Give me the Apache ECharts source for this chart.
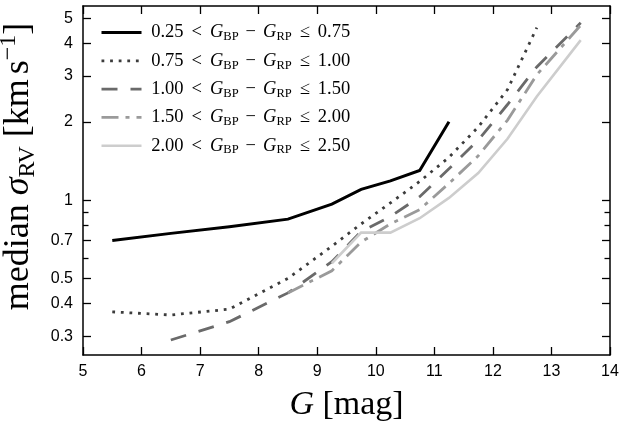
<!DOCTYPE html>
<html>
<head>
<meta charset="utf-8">
<script src="https://cdn.jsdelivr.net/npm/echarts@6/dist/echarts.min.js"></script>
<style>
  html, body { margin: 0; padding: 0; background: #ffffff; }
  #chart { width: 624px; height: 423px; }
</style>
</head>
<body>
<div id="chart"></div>
<script>
// G-magnitude bin centres shared by all colour bins
const magnitudes = [5.5, 6.5, 7.5, 8.5, 9.25, 9.75, 10.25, 10.75, 11.25, 11.75, 12.25, 12.75, 13.5];

// Median sigma_RV [km/s] per colour bin (null = bin not populated)
const sigmaBin1 = [0.70, 0.745, 0.79, 0.845, 0.965, 1.10, 1.185, 1.30, 2.00, null, null, null, null];
const sigmaBin2 = [0.372, 0.362, 0.381, 0.50, 0.665, 0.81, 0.975, 1.18, 1.46, 1.91, 2.66, 4.60, null];
const sigmaBin3 = [null, 0.29, 0.341, 0.44, 0.58, 0.757, 0.864, 1.03, 1.32, 1.70, 2.33, 3.25, 4.80];
const sigmaBin4 = [null, null, null, 0.44, 0.535, 0.69, 0.81, 0.92, 1.16, 1.48, 2.03, 3.03, 4.70];
const sigmaBin5 = [null, null, null, null, 0.572, 0.75, 0.75, 0.852, 1.02, 1.27, 1.72, 2.50, 4.12];

// Colour-bin edges (G_BP - G_RP)
const binLower = ['0.25', '0.75', '1.00', '1.50', '2.00'];
const binUpper = ['0.75', '1.00', '1.50', '2.00', '2.50'];

// Axis ticks
const xTicks = [5, 6, 7, 8, 9, 10, 11, 12, 13, 14];
const yLabelledTicks = [0.3, 0.4, 0.5, 0.7, 1, 2, 3, 4, 5];
const yPlainTicks = [0.6, 0.8, 0.9];

const xMin = 5, xMax = 14;
const yMin = 0.254, yMax = 5.57;

const serif = 'Liberation Serif';
const sans = 'Liberation Sans';

const seriesValues = [sigmaBin1, sigmaBin2, sigmaBin3, sigmaBin4, sigmaBin5];
const lineLooks = [
  { color: '#000000', width: 3.0, type: 'solid' },
  { color: '#3c3c3c', width: 2.8, type: [2.8, 5.8] },
  { color: '#6a6a6a', width: 2.8, type: [16, 13] },
  { color: '#9a9a9a', width: 2.8, type: [17, 7, 4, 7] },
  { color: '#cdcdcd', width: 2.6, type: 'solid' }
];

const seriesNames = binLower.map((lo, i) => lo + ' < G_BP − G_RP ≤ ' + binUpper[i]);

function pairs(values) {
  const out = [];
  values.forEach((v, i) => { if (v !== null) out.push([magnitudes[i], v]); });
  return out;
}

const series = seriesValues.map((vals, i) => ({
  name: seriesNames[i],
  type: 'line',
  xAxisIndex: 0,
  yAxisIndex: 0,
  data: pairs(vals),
  symbol: 'none',
  silent: true,
  animation: false,
  lineStyle: {
    color: lineLooks[i].color,
    width: lineLooks[i].width,
    type: lineLooks[i].type,
    cap: 'butt',
    join: 'miter'
  },
  itemStyle: { color: lineLooks[i].color }
}));

const frameLine = { show: true, lineStyle: { color: '#000', width: 1.5 } };

function yAxisDef(position, ticks, tickLength, withLabels, withLine) {
  return {
    type: 'log',
    position: position,
    min: yMin,
    max: yMax,
    axisLine: withLine ? frameLine : { show: false },
    splitLine: { show: false },
    minorTick: { show: false },
    axisTick: {
      show: true, inside: true, length: tickLength,
      customValues: ticks,
      lineStyle: { color: '#000', width: 1.3 }
    },
    axisLabel: withLabels ? {
      show: true,
      customValues: ticks,
      margin: 10,
      fontFamily: sans,
      fontSize: 16,
      color: '#000',
      formatter: v => String(+Number(v).toPrecision(3))
    } : { show: false }
  };
}

const yTitle = yAxisDef('left', yLabelledTicks, 8, true, true);
yTitle.name = 'median {it|σ}{sub|RV} [km{th| }s{sup|−1}]';
yTitle.nameLocation = 'middle';
yTitle.nameRotate = 90;
yTitle.nameGap = 43;
yTitle.nameTextStyle = {
  fontFamily: serif, fontSize: 36, color: '#000', lineHeight: 43,
  padding: [0, 0, 0, 28],
  rich: {
    it: { fontFamily: serif, fontStyle: 'italic', fontSize: 36, lineHeight: 43 },
    sub: { fontFamily: serif, fontSize: 24, lineHeight: 17, verticalAlign: 'bottom' },
    sup: { fontFamily: serif, fontSize: 24, lineHeight: 17, verticalAlign: 'top' },
    th: { fontFamily: serif, fontSize: 20, lineHeight: 43 }
  }
};

const option = {
  backgroundColor: '#ffffff',
  animation: false,
  grid: { left: 83, right: 14, top: 6, bottom: 68, containLabel: false, outerBoundsMode: 'none' },
  legend: {
    show: true,
    orient: 'vertical',
    left: 100,
    top: 21.5,
    padding: 0,
    itemWidth: 40,
    itemHeight: 14,
    itemGap: 6.3,
    selectedMode: false,
    lineStyle: { width: 'inherit', type: 'inherit', cap: 'butt' },
    itemStyle: { opacity: 0 },
    data: seriesNames,
    formatter: name => {
      const i = seriesNames.indexOf(name);
      return ' ' + binLower[i] + '{rel|<}{it|G}{sub|BP}{bin|−}{it|G}{sub|RP}{rel|≤}' + binUpper[i];
    },
    textStyle: {
      fontFamily: serif, fontSize: 18.5, color: '#000', lineHeight: 22,
      rich: {
        it: { fontFamily: serif, fontStyle: 'italic', fontSize: 18.5, lineHeight: 22 },
        sub: { fontFamily: serif, fontSize: 12.5, lineHeight: 10, verticalAlign: 'bottom' },
        rel: { fontFamily: serif, fontSize: 18.5, lineHeight: 22, padding: [0, 8, 0, 8] },
        bin: { fontFamily: serif, fontSize: 18.5, lineHeight: 22, padding: [0, 7, 0, 7] }
      }
    }
  },
  xAxis: [
    {
      type: 'value',
      position: 'bottom',
      min: xMin, max: xMax, interval: 1,
      axisLine: frameLine,
      splitLine: { show: false },
      axisTick: { show: true, inside: true, length: 8, customValues: xTicks, lineStyle: { color: '#000', width: 1.3 } },
      axisLabel: { show: true, customValues: xTicks, margin: 9, fontFamily: sans, fontSize: 16, color: '#000' },
      name: '{it|G} [mag]',
      nameLocation: 'middle',
      nameGap: 26,
      nameTextStyle: {
        fontFamily: serif, fontSize: 34, color: '#000', lineHeight: 40,
        rich: { it: { fontFamily: serif, fontStyle: 'italic', fontSize: 34, lineHeight: 40 } }
      }
    },
    {
      type: 'value',
      position: 'top',
      min: xMin, max: xMax, interval: 1,
      axisLine: frameLine,
      splitLine: { show: false },
      axisTick: { show: true, inside: true, length: 8, customValues: xTicks, lineStyle: { color: '#000', width: 1.3 } },
      axisLabel: { show: false }
    }
  ],
  yAxis: [
    yTitle,
    yAxisDef('left', yPlainTicks, 5.5, false, false),
    yAxisDef('right', yLabelledTicks, 8, false, true),
    yAxisDef('right', yPlainTicks, 5.5, false, false)
  ],
  series: series
};

const chart = echarts.init(document.getElementById('chart'), null, { renderer: 'canvas' });
chart.setOption(option);
</script>
</body>
</html>
